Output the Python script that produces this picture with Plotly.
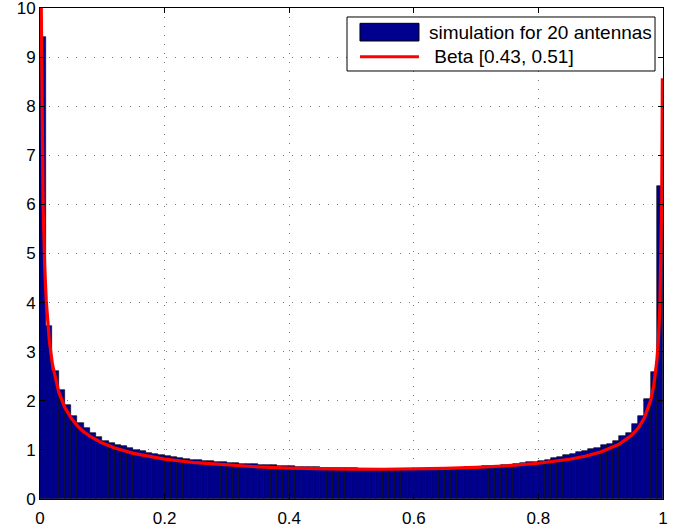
import plotly.graph_objects as go

# Histogram: 100 bins of width 0.01 on [0, 1]
bin_width = 0.01
bar_heights = [
    9.40, 3.52, 2.61, 2.21, 1.91, 1.70, 1.54, 1.45, 1.35, 1.26,
    1.19, 1.15, 1.11, 1.07, 1.03, 1.00, 0.97, 0.94, 0.91, 0.89,
    0.87, 0.85, 0.83, 0.82, 0.80, 0.79, 0.78, 0.77, 0.76, 0.75,
    0.74, 0.73, 0.72, 0.72, 0.71, 0.70, 0.69, 0.69, 0.68, 0.67,
    0.67, 0.66, 0.66, 0.65, 0.65, 0.64, 0.64, 0.64, 0.63, 0.63,
    0.63, 0.62, 0.62, 0.62, 0.62, 0.62, 0.61, 0.62, 0.61, 0.62,
    0.62, 0.62, 0.62, 0.63, 0.63, 0.63, 0.64, 0.64, 0.65, 0.65,
    0.66, 0.67, 0.68, 0.68, 0.69, 0.70, 0.72, 0.73, 0.75, 0.76,
    0.78, 0.80, 0.83, 0.86, 0.89, 0.92, 0.95, 0.98, 1.01, 1.04,
    1.09, 1.12, 1.19, 1.28, 1.35, 1.52, 1.70, 2.03, 2.59, 6.37,
]
bar_centers = [bin_width * (i + 0.5) for i in range(len(bar_heights))]

# Beta [0.43, 0.51] curve
curve_x = [0.002, 0.003, 0.004, 0.005, 0.0075, 0.01, 0.015, 0.02, 0.03, 0.04,
           0.05, 0.06, 0.07, 0.08, 0.1, 0.12, 0.15, 0.175, 0.2, 0.25,
           0.3, 0.35, 0.4, 0.45, 0.5, 0.55, 0.6, 0.65, 0.7, 0.75,
           0.8, 0.85, 0.875, 0.9, 0.93, 0.95, 0.96, 0.97, 0.98, 0.985,
           0.99, 0.9925, 0.995, 0.997, 0.998, 0.999]
curve_y = [10.0, 7.98, 6.78, 5.97, 4.74, 4.04, 3.22, 2.74, 2.18, 1.86,
           1.65, 1.49, 1.37, 1.28, 1.14, 1.04, 0.93, 0.864, 0.813, 0.739,
           0.689, 0.654, 0.630, 0.616, 0.607, 0.606, 0.611, 0.623, 0.644, 0.677,
           0.728, 0.810, 0.870, 0.956, 1.117, 1.30, 1.44, 1.65, 2.00, 2.30,
           2.80, 3.21, 3.92, 5.01, 6.12, 8.57]

x_ticks = [0, 0.2, 0.4, 0.6, 0.8, 1]
x_tick_labels = ["0", "0.2", "0.4", "0.6", "0.8", "1"]
y_ticks = list(range(0, 11))

legend_labels = ["simulation for 20 antennas", " Beta [0.43, 0.51]"]

font = "Liberation Sans, Arial, Helvetica, sans-serif"
bar_color = "#00008F"
line_color = "#FF0000"

fig = go.Figure()
fig.add_trace(go.Bar(
    x=bar_centers, y=bar_heights, width=bin_width,
    name=legend_labels[0], showlegend=False,
    marker=dict(color=bar_color, line=dict(color="#000000", width=0.6)),
))
fig.add_trace(go.Scatter(
    x=curve_x, y=curve_y, mode="lines",
    name=legend_labels[1], showlegend=False,
    line=dict(color=line_color, width=3.2),
))

axis_common = dict(
    showline=True, linecolor="black", linewidth=1, mirror="ticks",
    ticks="inside", ticklen=5, tickcolor="black",
    showgrid=True, gridcolor="#7a7a7a", griddash="1px,8px", gridwidth=1,
    zeroline=False, tickfont=dict(family=font, size=17, color="black"),
    ticklabeloverflow="allow", automargin=False,
)

# MATLAB-style legend box (drawn manually, paper coordinates)
lg_left, lg_right, lg_top, lg_bottom = 0.4928, 0.9872, 0.9817, 0.8717
sym_left, sym_right = 0.5136, 0.6083
row1_y, row2_y = 0.9508, 0.9008
text_x = 0.6207

shapes = [
    dict(type="rect", xref="paper", yref="paper", layer="above",
         x0=lg_left, x1=lg_right, y0=lg_bottom, y1=lg_top,
         fillcolor="white", line=dict(color="black", width=1)),
    dict(type="rect", xref="paper", yref="paper", layer="above",
         x0=sym_left, x1=sym_right, y0=0.9328, y1=0.9688,
         fillcolor=bar_color, line=dict(color="black", width=1)),
    dict(type="line", xref="paper", yref="paper", layer="above",
         x0=sym_left, x1=sym_right, y0=row2_y, y1=row2_y,
         line=dict(color=line_color, width=3)),
]
annotations = [
    dict(xref="paper", yref="paper", x=text_x, y=row1_y, text=legend_labels[0],
         showarrow=False, xanchor="left", yanchor="middle",
         font=dict(family=font, size=19, color="black")),
    dict(xref="paper", yref="paper", x=text_x, y=row2_y, text=legend_labels[1],
         showarrow=False, xanchor="left", yanchor="middle",
         font=dict(family=font, size=19, color="black")),
]

fig.update_layout(
    width=685, height=529,
    margin=dict(l=40, r=22, t=8, b=30, autoexpand=False),
    paper_bgcolor="white", plot_bgcolor="white",
    bargap=0,
    showlegend=False,
    shapes=shapes,
    annotations=annotations,
    xaxis=dict(range=[0, 1], tickvals=x_ticks, ticktext=x_tick_labels,
               ticklabelstandoff=4, **axis_common),
    yaxis=dict(range=[0, 10], tickvals=y_ticks, **axis_common),
)

fig.write_html("out.html")
